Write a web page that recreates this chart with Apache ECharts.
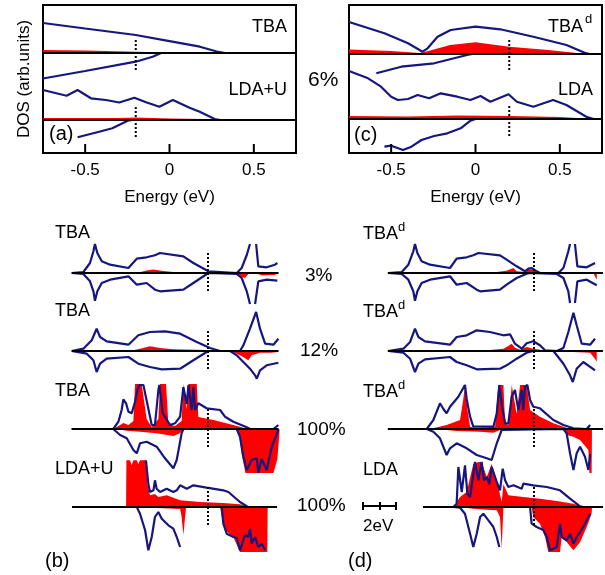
<!DOCTYPE html>
<html><head><meta charset="utf-8">
<script src="https://cdn.jsdelivr.net/npm/echarts@6/dist/echarts.min.js"></script>
<style>html,body{margin:0;padding:0;background:#fff}#c{width:605px;height:575px}</style>
</head><body><div id="c"></div>
<script>
// ---------- DATA ----------
const xTicks = [-0.5, 0, 0.5];
// panel (a): [energy eV, DOS]
const aTbaUp = [[-0.75,30],[-0.5,24.5],[-0.2,18],[0,11.8],[0.18,6.3],[0.28,1.5],[0.33,0],[0.75,0]];
const aTbaUpRed = [[-0.75,3],[-0.5,2.5],[-0.2,1.3],[0,0.4],[0.1,0],[0.75,0]];
const aTbaDn = [[-0.75,-25.5],[-0.5,-18],[-0.2,-8.7],[-0.1,-3.7],[-0.05,0],[0.75,0]];
const aLdaUp = [[-0.75,30],[-0.61,24.3],[-0.545,30],[-0.466,21.7],[-0.377,20],[-0.298,17.5],[-0.208,22.3],[-0.139,17.7],[-0.06,13.3],[0.02,20],[0.119,12.3],[0.179,8.3],[0.268,1],[0.3,0],[0.75,0]];
const aLdaUpRed = [[-0.75,2],[-0.3,2],[-0.2,2.5],[0,1.5],[0.2,1],[0.3,0],[0.75,0]];
const aLdaDn = [[-0.545,-17.3],[-0.417,-11.7],[-0.339,-8.3],[-0.248,-0.7],[-0.22,0],[0.75,0]];
// panel (c)
const cTbaUp = [[-0.75,32],[-0.54,20.7],[-0.40,10.7],[-0.314,2.3],[-0.284,5.7],[-0.225,17.3],[-0.147,24],[0,27.3],[0.147,24.7],[0.343,17.3],[0.539,9],[0.647,1.3],[0.676,0],[0.75,0]];
const cTbaUpRed = [[-0.75,4.5],[-0.5,3],[-0.33,1],[-0.28,3],[-0.15,9],[0,11.7],[0.2,7.3],[0.43,4],[0.63,0.5],[0.65,0],[0.75,0]];
const cTbaDn = [[-0.588,-19.3],[-0.44,-12.7],[-0.245,-9.3],[-0.127,-4.3],[-0.05,-1],[-0.02,0],[0.75,0]];
const cLdaUp = [[-0.75,48],[-0.637,40.7],[-0.56,32.3],[-0.5,22.3],[-0.46,19],[-0.4,20],[-0.343,24],[-0.275,20.7],[-0.206,25.7],[-0.108,22.3],[-0.03,19],[0.03,23],[0.088,17.3],[0.196,24.7],[0.245,17.3],[0.343,12.3],[0.46,19],[0.539,14],[0.657,2.3],[0.7,0],[0.75,0]];
const cLdaUpRed = [[-0.75,3],[-0.4,2.5],[-0.1,3.5],[0.2,3],[0.5,2],[0.65,0.5],[0.7,0]];
const cLdaDn = [[-0.54,-27.7],[-0.5,-26.7],[-0.43,-31],[-0.38,-27.7],[-0.32,-21],[-0.245,-17],[-0.167,-14.3],[-0.088,-9.3],[-0.03,-1.7],[0,0],[0.75,0]];
// panel (b) rows
const b1Up = [[-8.22,0],[-7.53,1],[-7.14,10],[-6.94,21.7],[-6.85,29],[-6.71,20],[-6.45,11.7],[-5.96,8.3],[-4.88,5],[-4.39,14.3],[-3.81,15.7],[-3.32,17.7],[-3.02,20],[-1.65,16.7],[-1.06,10],[-0.18,1.7],[-0.08,0],[1.49,0],[1.78,5],[2.08,18],[2.27,29],[2.45,'-'],[2.63,29],[2.76,6.7],[3.25,5.7],[3.74,8.3],[3.88,10]];
const b1Dn = [[-8.22,0],[-7.53,-1],[-7.14,-8.3],[-6.94,-18.3],[-6.85,-27.7],[-6.71,-18.3],[-6.45,-10],[-5.96,-6.7],[-4.88,-3.3],[-4.39,-11.7],[-3.81,-10],[-3.32,-16.7],[-3.02,-18.3],[-1.65,-16.7],[-1.06,-10],[-0.18,0],[1.49,-1],[1.78,-5],[2.08,-18.3],[2.27,-31],[2.42,'-'],[2.57,-31],[2.76,-8.3],[3.25,-6.7],[3.88,-7.7]];
const b1UpRed = [[-4.39,0],[-3.81,2.5],[-3.41,3.5],[-2.83,2],[-2.24,1],[-1.26,0.5],[-0.18,0]];
const b1DnRed = [[1.19,0],[1.49,-2],[1.78,-4],[1.98,-5],[2.17,-1],[2.47,0],[2.76,-1],[2.96,-2.5],[3.45,-2],[3.88,-2]];
const b2Up = [[-8.22,0],[-7.53,2.3],[-7.04,10.7],[-6.75,22.3],[-6.55,14],[-6.16,9.7],[-4.88,6.3],[-4.30,15.7],[-3.61,19],[-2.73,19.7],[-1.84,17.3],[-0.86,9],[-0.08,3],[0.51,0],[1.68,0],[1.88,5.7],[2.27,22.3],[2.63,39],[2.86,22.3],[3.16,7.3],[3.65,6.3],[3.94,12.3]];
const b2Dn = [[-8.22,0],[-7.33,-2.7],[-6.94,-9.3],[-6.75,-21],[-6.55,-12.7],[-6.16,-7.7],[-4.88,-6],[-4.30,-12.7],[-3.61,-16],[-2.92,-18.3],[-1.84,-17.7],[-1.06,-9.3],[-0.28,-1],[-0.08,0],[1.10,0],[1.49,-4.3],[1.88,-11],[2.27,-17.7],[2.57,-24.3],[2.67,-27.7],[2.86,-19.3],[3.25,-14.3],[3.94,-11.7]];
const b2UpRed = [[-4.79,0],[-4.20,2.3],[-3.61,4.7],[-3.02,3],[-2.24,1.7],[-0.28,1],[-0.08,0]];
const b2DnRed = [[1.10,0],[1.49,-2.7],[1.88,-6],[2.17,-9.3],[2.37,-4.3],[2.86,-1.7],[3.94,-1.7]];
const b3Up = [[-8.22,0],[-5.77,0],[-5.47,7.3],[-5.28,19],[-5.18,29.7],[-5.02,25.7],[-4.88,17.3],[-4.69,15.7],[-4.49,27.3],[-4.35,39],[-4.24,44],[-4.00,44],[-3.51,4],[-3.32,4],[-3.12,39],[-3.06,44],[-2.98,44],[-2.86,15.7],[-2.43,4],[-2.14,5.7],[-1.84,12.3],[-1.65,42],[-1.55,40],[-1.45,25],[-1.35,44],[-1.16,19],[-1.06,42],[-0.96,19],[-0.77,25.7],[-0.28,20.7],[0.51,19],[0.80,12.3],[1.29,7.3],[2.08,1.7],[2.27,0],[3.65,0],[3.94,4]];
const b3Dn = [[-8.22,0],[-5.77,0],[-5.37,-6],[-4.98,-9.3],[-4.59,-21],[-4.39,-24.3],[-4.20,-14.3],[-3.81,-12.7],[-3.22,-17.7],[-2.73,-29.3],[-2.24,-39.3],[-2.04,-31],[-1.75,-4.3],[-1.65,0],[1.49,0],[1.68,-7.7],[1.88,-27.7],[2.08,-41],[2.37,-31],[2.67,-29.3],[2.76,-44],[2.96,-30],[3.25,-41],[3.55,-17.7],[3.94,-1]];
const b3UpRed = [[-5.77,0],[-5.47,3],[-5.18,6],[-4.88,4],[-4.59,8],[-4.49,45],[-4.10,45],[-3.81,10],[-3.51,2],[-3.12,10],[-3.02,45],[-2.67,45],[-2.53,5],[-2.14,3],[-1.75,8],[-1.65,45],[-1.45,20],[-1.35,45],[-0.86,45],[-0.77,12],[0.12,9],[1.68,2.3],[2.08,0]];
const b3DnRed = [[-5.57,0],[-4.98,-1.7],[-4.20,-2.7],[-3.22,-4.3],[-2.24,-7],[-1.84,-4.3],[-1.65,0],[1.49,0],[1.65,-6],[1.78,-25],[2.00,-44],[3.65,-44],[3.88,-30],[4.0,-5]];
const b4Up = [[-3.85,46.7],[-3.71,23],[-3.61,15],[-3.41,16.7],[-3.32,26.7],[-3.22,18.3],[-3.02,15],[-2.63,18.3],[-2.24,15],[-2.04,16.7],[-1.84,21.7],[-1.45,18.3],[-1.06,21.7],[-0.28,19.3],[0.70,16.7],[1.0,15],[1.68,5],[2.08,0.7],[2.17,0]];
const b4UpRed = [[-5.02,0],[-5.0,46.7],[-4.79,46.7],[-4.69,42],[-4.59,46.7],[-4.39,46.7],[-4.30,43],[-4.20,46.7],[-3.85,46.7],[-3.77,23],[-3.61,11.7],[-3.32,13],[-3.12,10],[-2.63,11.7],[-1.84,6.7],[-0.67,5],[0.70,4],[1.68,2.7],[2.17,0]];
const b4Dn = [[-4.39,0],[-4.20,-6.7],[-3.90,-23.3],[-3.71,-43.3],[-3.51,-30],[-3.32,-10],[-3.12,-5],[-2.92,-11.7],[-2.53,-18.3],[-2.24,-21.7],[-2.04,-30],[-1.84,-40],[-1.7,'-'],[0.61,0],[0.70,-16.7],[0.90,-26.7],[1.29,-30],[1.49,-31],[1.68,-43.3],[1.88,-33],[1.98,-28.3],[2.17,-30],[2.27,-21.7],[2.37,-36.7],[2.57,-30],[2.76,-40],[2.96,-36.7],[3.16,-43.3]];
const b4DnRed = [[-4.20,0],[-3.22,-1],[-1.84,-2],[-1.75,-10],[-1.65,-28],[-1.49,0],[0.51,0],[0.61,-10],[0.80,-23],[1.29,-30],[1.68,-45],[3.29,-45],[3.31,0]];
// panel (d) rows
const d1Up = [[-8.37,0],[-7.58,1],[-7.19,8.3],[-6.90,21.7],[-6.80,29],[-6.66,20],[-6.41,11.7],[-5.92,8.3],[-4.74,5],[-4.35,14.3],[-3.76,15.7],[-3.37,17.7],[-3.07,20],[-1.80,17.7],[-1.41,13.3],[-0.82,6.7],[-0.33,1.7],[-0.13,4.3],[0.06,5],[0.36,1.7],[0.55,0],[1.63,0],[1.93,5],[2.22,21.7],[2.32,29],[2.46,'-'],[2.61,29],[2.75,6.7],[3.30,5.7],[3.79,10]];
const d1Dn = [[-8.37,0],[-7.58,-1],[-7.19,-6.7],[-6.90,-18.3],[-6.80,-27.7],[-6.66,-18.3],[-6.41,-10],[-5.92,-6.7],[-4.74,-3.3],[-4.35,-11.7],[-3.76,-10],[-3.17,-16.7],[-2.97,-18.3],[-1.80,-16.7],[-1.41,-11.7],[-0.82,-5],[-0.23,-0.7],[-0.03,0],[1.54,-1],[1.93,-5],[2.22,-18.3],[2.32,-30],[2.46,'-'],[2.61,-30],[2.75,-8.3],[3.30,-6.7],[3.89,-12.3]];
const d1UpRed = [[-3.37,0],[-1.99,1],[-1.41,2.3],[-1.01,5],[-0.82,1.7],[-0.33,1],[-0.13,4],[0.16,3.3],[0.46,0]];
const d1DnRed = [[3.69,0],[3.79,-1.7],[3.89,-6.7]];
const d2Up = [[-8.37,0],[-7.48,2.3],[-7.09,9],[-6.80,22.3],[-6.60,14],[-6.21,9.7],[-4.74,6.3],[-4.35,14],[-3.76,15.7],[-3.17,20.7],[-2.39,19],[-1.60,15.7],[-1.21,16.7],[-0.92,7.3],[-0.52,2.3],[-0.23,7.7],[0.16,9.7],[0.55,5.7],[0.85,0.7],[1.54,0],[1.93,3],[2.22,19],[2.52,38.3],[2.71,25.7],[3.01,7.3],[3.50,6.3],[3.79,12.3]];
const d2Dn = [[-8.37,0],[-7.48,-1.7],[-7.09,-7.7],[-6.80,-21],[-6.60,-12.7],[-6.21,-8.3],[-4.74,-6],[-4.35,-11],[-3.76,-14.3],[-3.17,-18.3],[-1.80,-17.7],[-1.41,-14.3],[-0.82,-7.7],[-0.23,-1.7],[0.16,0],[1.34,0],[1.54,-4.3],[1.93,-12.7],[2.32,-24.3],[2.48,-31],[2.71,-17.7],[3.10,-11],[3.79,-19.3]];
const d2UpRed = [[-3.76,0],[-2.39,1],[-1.60,2.3],[-1.31,5],[-1.11,7.3],[-0.92,3.3],[-0.62,1.3],[-0.23,4],[0.16,2.3],[0.75,0.7],[0.95,0]];
const d2DnRed = [[1.34,0],[2.52,-1],[3.50,-1.7],[3.79,-7.7],[3.89,-11]];
const d3Up = [[-8.37,0],[-6.11,0],[-5.72,9],[-5.33,25.7],[-5.13,20],[-4.94,15.7],[-4.74,22.3],[-4.25,32.3],[-3.86,44],[-3.76,30],[-3.56,12.3],[-3.37,2.3],[-2.19,2.3],[-1.99,15.7],[-1.84,44],[-1.70,25],[-1.50,5.7],[-1.31,5.7],[-1.11,32.3],[-0.92,39],[-0.72,19],[-0.52,39],[-0.43,19],[-0.33,42.3],[-0.19,44],[-0.03,29],[0.16,22.3],[0.55,20.7],[1.34,9],[1.93,4],[2.52,0.7],[3.30,0],[3.50,4]];
const d3UpRed = [[-5.92,0],[-4.94,4],[-4.15,9],[-3.96,30],[-3.86,44],[-3.72,20],[-3.56,2.3],[-3.17,0.7],[-2.09,2.3],[-1.90,44],[-1.60,44],[-1.50,5.7],[-1.31,4],[-1.11,44],[-0.82,15],[-0.62,44],[-0.23,44],[-0.03,19],[0.55,12.3],[1.34,5.7],[1.93,2.3],[2.32,0]];
const d3Dn = [[-8.37,0],[-6.11,0],[-5.72,-2.7],[-5.33,-9.3],[-4.94,-26],[-4.74,-19.3],[-4.35,-14.3],[-3.76,-19.3],[-3.17,-26],[-2.58,-29.3],[-2.29,-31],[-1.99,-14.3],[-1.70,-1],[-1.60,0],[1.93,0],[2.12,-4.3],[2.32,-24.3],[2.52,-41],[2.71,-24.3],[2.91,-17.7],[3.20,-27.7],[3.40,-41],[3.50,-25]];
const d3DnRed = [[-5.52,0],[-4.35,-2],[-2.97,-2.7],[-2.19,-3.7],[-1.80,-1],[-1.60,0],[1.93,0],[2.12,-6],[2.52,-7.7],[2.91,-11],[3.40,-21],[3.46,-44],[3.59,-44],[3.61,0]];
const d4Up = [[-4.54,0],[-4.35,3.3],[-4.25,40],[-4.15,40],[-4.05,15],[-3.86,41.7],[-3.72,13.3],[-3.56,10],[-3.27,45],[-3.17,43],[-3.07,26.7],[-2.88,45],[-2.74,26.7],[-2.58,30],[-2.43,23],[-2.29,40],[-1.99,25],[-1.80,16.7],[-1.64,38.3],[-1.50,26.7],[-1.31,20],[-1.01,21.7],[-0.52,18.3],[-0.43,23.3],[0.16,21.7],[0.95,20],[1.73,16.7],[2.32,8.3],[2.91,0.7],[3.10,0]];
const d4UpRed = [[-4.54,0],[-4.15,10],[-3.76,15],[-3.37,43],[-3.07,45],[-2.88,45],[-2.58,30],[-2.29,43],[-2.19,45],[-1.99,27],[-1.70,5],[-1.60,23],[-1.31,11.7],[-0.43,10],[0.55,8.3],[1.54,6],[2.52,3.3],[3.10,0]];
const d4Dn = [[-4.54,0],[-4.15,-0.7],[-3.86,-6.7],[-3.56,-26.7],[-3.37,-40],[-3.17,-26.7],[-2.97,-10],[-2.78,-6.7],[-2.48,-13.3],[-2.19,-20],[-1.99,-30],[-1.84,-40],[-1.7,'-'],[-0.03,0],[0.06,-16.7],[0.36,-20],[0.75,-23],[0.95,-30],[1.14,-43.3],[1.54,-40],[1.73,-16.7],[1.83,-30],[2.12,-33.3],[2.32,-26.7],[2.52,-36.7],[2.71,-30],[3.10,-20],[3.50,-6.7]];
const d4DnRed = [[-4.15,0],[-3.37,-1.7],[-2.58,-2.7],[-1.99,-3.3],[-1.80,-10],[-1.70,-41.7],[-1.60,0],[0.06,0],[0.16,-10],[0.55,-16.7],[0.85,-30],[1.04,-45],[1.73,-45],[1.83,-30],[2.12,-35],[2.52,-43.3],[2.91,-35],[3.30,-20],[3.59,-6.7],[3.61,0]];
// reference energies (dotted markers)
const markA = -0.2, markC = 0.2;
const rowLabelsB = ['TBA','TBA','TBA','LDA+U'];
const rowLabelsD = ['TBA','TBA','TBA','LDA'];
const rowSupD = ['d','d','d',''];
const concB = ['3%','12%','100%','100%'];

// ---------- BUILD ----------
const FONT = '"Liberation Sans", Arial, Helvetica, sans-serif';
const BLUE = '#16167f', RED = '#ff0000';
const grids = [], xAxes = [], yAxes = [], series = [];
function addGrid(g, xr, yr, xExtra, yExtra) {
  const i = grids.length;
  grids.push(Object.assign({containLabel:false}, g));
  xAxes.push(Object.assign({type:'value', gridIndex:i, min:xr[0], max:xr[1], show:false, splitLine:{show:false}}, xExtra||{}));
  yAxes.push(Object.assign({type:'value', gridIndex:i, min:yr[0], max:yr[1], show:false, splitLine:{show:false}}, yExtra||{}));
  return i;
}
function S(i, data, kind, extra) {
  const s = {type:'line', xAxisIndex:i, yAxisIndex:i, data:data, symbol:'none', showSymbol:false, animation:false, silent:true, connectNulls:false};
  if (kind==='red') { s.lineStyle={width:0,opacity:0}; s.areaStyle={color:RED,opacity:1}; s.z=2; }
  else if (kind==='blue') { s.lineStyle={color:BLUE,width:2.2}; s.z=3; }
  else if (kind==='base') { s.lineStyle={color:'#000',width:2}; s.z=4; }
  else if (kind==='dot') { s.lineStyle={color:'#000',width:2,type:'dotted'}; s.z=5; }
  series.push(Object.assign(s, extra||{}));
}
const axisText = {fontSize:17, color:'#000', fontFamily:FONT};
const frame = {show:true, borderColor:'#000', borderWidth:2, backgroundColor:'transparent'};
const labelAxis = {
  show:true, position:'bottom', axisLine:{show:false, onZero:false}, axisTick:{show:false},
  axisLabel:Object.assign({show:true, customValues:xTicks.slice(), margin:9}, axisText),
  name:'Energy (eV)', nameLocation:'middle', nameGap:36, nameTextStyle:axisText
};
const TOP = 5, H = 148, W = 253, LEFT_A = 43, LEFT_C = 349, XR = [-0.75, 0.75];
// (a)
const ga1 = addGrid(Object.assign({left:LEFT_A, top:TOP, width:W, height:H}, frame), XR, [-100,48], labelAxis,
  {show:true, axisLine:{show:false, onZero:false}, axisTick:{show:false}, axisLabel:{show:false},
   name:'DOS (arb.units)', nameLocation:'middle', nameRotate:90, nameGap:10, nameTextStyle:axisText});
const ga2 = addGrid({left:LEFT_A, top:TOP, width:W, height:H}, XR, [-33,115]);
// (c)
const gc1 = addGrid(Object.assign({left:LEFT_C, top:TOP, width:W, height:H}, frame), XR, [-99,49], labelAxis);
const gc2 = addGrid({left:LEFT_C, top:TOP, width:W, height:H}, XR, [-34,114]);
function topPanel(g1, g2, up1, red1, dn1, up2, red2, dn2, mark, dot1, dot2) {
  S(g1, red1, 'red'); S(g1, dn1, 'blue'); S(g1, up1, 'blue');
  S(g1, [[XR[0],0],[XR[1],0]], 'base');
  S(g1, [[mark,dot1[0]],[mark,dot1[1]]], 'dot');
  S(g2, red2, 'red'); S(g2, dn2, 'blue'); S(g2, up2, 'blue');
  S(g2, [[XR[0],0],[XR[1],0]], 'base');
  S(g2, [[mark,dot2[0]],[mark,dot2[1]]], 'dot');
}
topPanel(ga1, ga2, aTbaUp, aTbaUpRed, aTbaDn, aLdaUp, aLdaUpRed, aLdaDn, markA, [13,-19], [13,-17]);
topPanel(gc1, gc2, cTbaUp, cTbaUpRed, cTbaDn, cLdaUp, cLdaUpRed, cLdaDn, markC, [14,-18], [13,-18]);
// bottom rows
const PX_PER_EV = 17;
const rowBase = [273, 351, 429, 507];
const bRows = [[b1Up,b1Dn,b1UpRed,b1DnRed],[b2Up,b2Dn,b2UpRed,b2DnRed],[b3Up,b3Dn,b3UpRed,b3DnRed],[b4Up,b4Dn,b4UpRed,b4DnRed]];
const dRows = [[d1Up,d1Dn,d1UpRed,d1DnRed],[d2Up,d2Dn,d2UpRed,d2DnRed],[d3Up,d3Dn,d3UpRed,d3DnRed],[d4Up,d4Dn,d4UpRed,d4DnRed]];
const bX = [-8.2, 4.2], dX = [-8.4, 4.3];
const bBaseX = [[-8.2,3.95],[-8.2,3.95],[-8.2,3.95],[-8.2,3.86]];
const dBaseX = [[-8.4,4.26],[-8.4,4.26],[-8.4,4.26],[-6.33,4.26]];
const dGrids = [];
rowBase.forEach((yb, r) => {
  const gb = addGrid({left:72, top:yb-50, width:(bX[1]-bX[0])*PX_PER_EV, height:100}, bX, [-50,50]);
  const [u,d,ur,dr] = bRows[r];
  S(gb, ur, 'red'); S(gb, dr, 'red'); S(gb, u, 'blue'); S(gb, d, 'blue');
  S(gb, [[bBaseX[r][0],0],[bBaseX[r][1],0]], 'base');
  S(gb, [[markA,20],[markA,-19]], 'dot');
  const gd = addGrid({left:534-(markC-dX[0])*PX_PER_EV, top:yb-50, width:(dX[1]-dX[0])*PX_PER_EV, height:100}, dX, [-50,50]);
  dGrids.push(gd);
  const [u2,d2,ur2,dr2] = dRows[r];
  S(gd, ur2, 'red'); S(gd, dr2, 'red'); S(gd, u2, 'blue'); S(gd, d2, 'blue');
  S(gd, [[dBaseX[r][0],0],[dBaseX[r][1],0]], 'base');
  S(gd, [[markC,20],[markC,-19]], 'dot');
});

function T(text, x, y, size, align) {
  return {type:'text', z:100, silent:true, style:{text:text, x:x, y:y, font:size+'px '+FONT, fill:'#000',
    textAlign:align||'left', align:align||'left', textVerticalAlign:'middle', verticalAlign:'middle'}};
}
function R(x, y, w, h) {
  return {type:'rect', z:120, silent:true, shape:{x:x, y:y, width:w, height:h}, style:{fill:'#000'}};
}
const graphic = [
  T('TBA', 287, 27, 18, 'right'), T('LDA+U', 287, 90, 18, 'right'), T('(a)', 49, 134, 20),
  T('TBA', 583, 27, 18, 'right'), T('d', 585, 19, 13), T('LDA', 593, 90, 18, 'right'), T('(c)', 354, 135, 20),
  T('6%', 308, 80, 21),
  T('(b)', 45, 561, 20), T('(d)', 348, 561, 20)
];
// inward ticks on the bottom frame of (a) and (c): positions follow the frame's energy range
[LEFT_A, LEFT_C].forEach(left => {
  xTicks.forEach(v => {
    const x = left + (v - XR[0]) / (XR[1] - XR[0]) * W;
    graphic.push(R(x - 1, TOP + H - 9, 2, 9));
  });
});
const labY = [233, 311, 391, 469];
const pctX = [305, 300, 297, 297], pctY = [276, 351, 430, 506];
for (let r=0;r<4;r++) {
  graphic.push(T(rowLabelsB[r], 55, labY[r], 18));
  graphic.push(T(rowLabelsD[r], 363, labY[r]+1, 18));
  if (rowSupD[r]) graphic.push(T(rowSupD[r], 398, labY[r]-6, 13));
  graphic.push(T(concB[r], pctX[r], pctY[r], 19));
}
// 2 eV scale bar on the (d) energy scale (17 px per eV)
const scaleBarEV = 2;
const sbX = 362, sbY = 505;
graphic.push(R(sbX, sbY, scaleBarEV*PX_PER_EV, 2));
for (let k=0;k<=scaleBarEV;k++) graphic.push(R(sbX + k*PX_PER_EV - (k===scaleBarEV?1:0), sbY-3, 2, 8));
graphic.push(T(scaleBarEV + 'eV', sbX + 1, sbY + 21, 17));

const chart = echarts.init(document.getElementById('c'), null, {renderer:'canvas'});
chart.setOption({animation:false, backgroundColor:'#fff', grid:grids, xAxis:xAxes, yAxis:yAxes, series:series, graphic:graphic});
</script></body></html>
